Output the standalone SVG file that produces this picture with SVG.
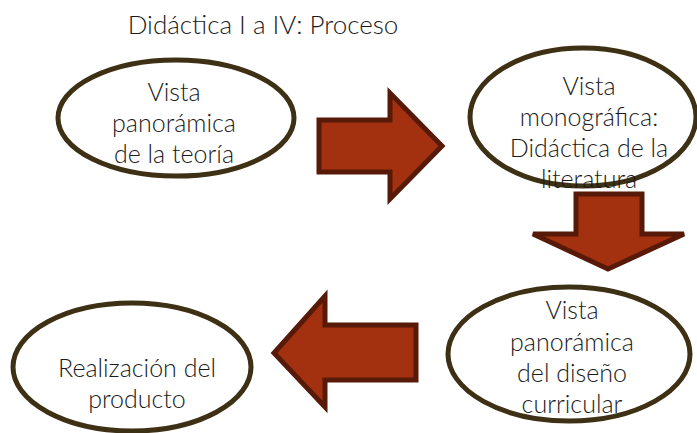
<svg xmlns="http://www.w3.org/2000/svg" width="697" height="433" viewBox="0 0 697 433">
<style>
.node ellipse{fill:#fff;stroke:#3d3014;stroke-width:5}
.arrow{fill:#a3300f;stroke:#581a08;stroke-width:5;stroke-linejoin:miter}
text{font-family:Lato,"Open Sans","Liberation Sans",sans-serif;font-weight:300;font-size:25px;fill:#1a1a1a;text-anchor:middle}
.title{font-size:26px}
</style>
<rect width="697" height="433" fill="#fff"/>
<text class="title" x="263" y="34">Didáctica I a IV: Proceso</text>
<g id="connectors">
<polygon class="arrow" points="319,120 390,120 390,93 442,146 390,199 390,172 319,172"/>
<polygon class="arrow" points="576,194 642,194 642,234 684,234 608,269 533,234 576,234"/>
<polygon class="arrow" points="416,325 325,325 325,296 274,353 325,407 325,380 416,380"/>
</g>
<g id="node1" class="node">
<ellipse cx="176" cy="118" rx="118" ry="58"/>
<text x="174" y="101">Vista</text>
<text x="174" y="132">panorámica</text>
<text x="174" y="163">de la teoría</text>
</g>
<g id="node2" class="node">
<ellipse cx="583" cy="117" rx="113" ry="69"/>
<text x="589" y="95">Vista</text>
<text x="589" y="126">monográfica:</text>
<text x="589" y="157">Didáctica de la</text>
<text x="589" y="188">literatura</text>
</g>
<g id="node3" class="node">
<ellipse cx="569" cy="354" rx="121" ry="67"/>
<text x="572" y="319">Vista</text>
<text x="572" y="351">panorámica</text>
<text x="572" y="382">del diseño</text>
<text x="572" y="413">curricular</text>
</g>
<g id="node4" class="node">
<ellipse cx="132" cy="367" rx="119" ry="64"/>
<text x="137" y="377">Realización del</text>
<text x="137" y="408">producto</text>
</g>
</svg>
